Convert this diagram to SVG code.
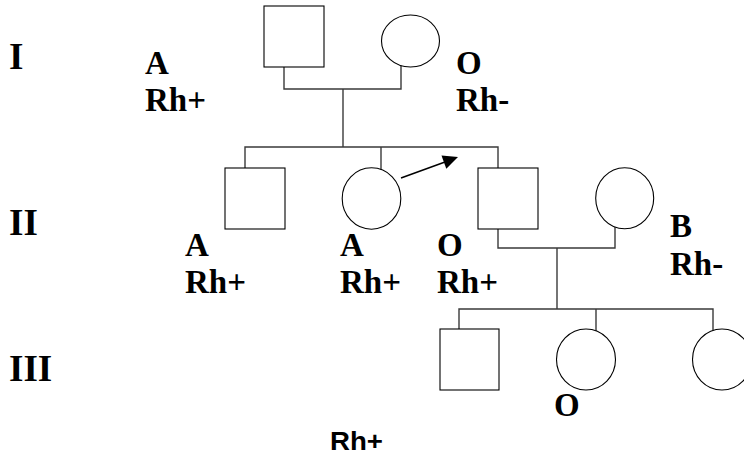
<svg xmlns="http://www.w3.org/2000/svg" width="744" height="459" viewBox="0 0 744 459">
<style>
.n{fill:#fff;stroke:#000;stroke-width:1.1}
.c{fill:none;stroke:#3a3a3a;stroke-width:1.4}
.g{font-family:"Liberation Serif","Times New Roman",serif;font-weight:bold;font-size:37px;fill:#000}
.l{font-family:"Liberation Serif","Times New Roman",serif;font-weight:bold;font-size:33px;fill:#000}
.s{font-family:"Liberation Sans",Arial,sans-serif;font-weight:bold;font-size:25px;fill:#000}
</style>
<g id="connectors">
<path class="c" d="M284,67V89H401V65"/>
<path class="c" d="M343,89V147"/>
<path class="c" d="M245,168V147H498V168"/>
<path class="c" d="M381,147V170"/>
<path class="c" d="M498,229V248H615V227"/>
<path class="c" d="M557,248V309"/>
<path class="c" d="M459,329V309H713V331"/>
<path class="c" d="M596,309V331"/>
<line x1="401" y1="178" x2="445" y2="162" stroke="#000" stroke-width="1.4"/>
<polygon points="458,157 441.5,155.6 446.3,168.8" fill="#000"/>
</g>
<g id="gen-labels">
<text class="g" x="9" y="69">I</text>
<text class="g" x="9" y="235">II</text>
<text class="g" x="9" y="381">III</text>
</g>
<g id="I-1"><rect class="n" x="264" y="6" width="60" height="61"/></g>
<g id="I-2"><ellipse class="n" cx="410.5" cy="41" rx="29" ry="26"/></g>
<g id="II-1"><rect class="n" x="225" y="168" width="60" height="61"/></g>
<g id="II-2"><ellipse class="n" cx="371.5" cy="198.5" rx="29.3" ry="30.7"/></g>
<g id="II-3"><rect class="n" x="478" y="168" width="60" height="61"/></g>
<g id="II-4"><ellipse class="n" cx="624.7" cy="198.3" rx="29" ry="30.5"/></g>
<g id="III-1"><rect class="n" x="440" y="329" width="59" height="61"/></g>
<g id="III-2"><ellipse class="n" cx="586" cy="359.5" rx="29.5" ry="30.5"/></g>
<g id="III-3"><ellipse class="n" cx="722" cy="359.5" rx="29.5" ry="30.5"/></g>
<g id="labels">
<text class="l" x="145" y="74">A</text>
<text class="l" x="145" y="111">Rh+</text>
<text class="l" x="456" y="74">O</text>
<text class="l" x="456" y="111">Rh-</text>
<text class="l" x="185" y="256">A</text>
<text class="l" x="185" y="293">Rh+</text>
<text class="l" x="340" y="256">A</text>
<text class="l" x="340" y="293">Rh+</text>
<text class="l" x="437" y="256">O</text>
<text class="l" x="437" y="293">Rh+</text>
<text class="l" x="670" y="237">B</text>
<text class="l" x="670" y="275">Rh-</text>
<text class="l" x="554" y="416">O</text>
<text class="s" x="330" y="450" textLength="53" lengthAdjust="spacingAndGlyphs">Rh+</text>
</g>
</svg>
